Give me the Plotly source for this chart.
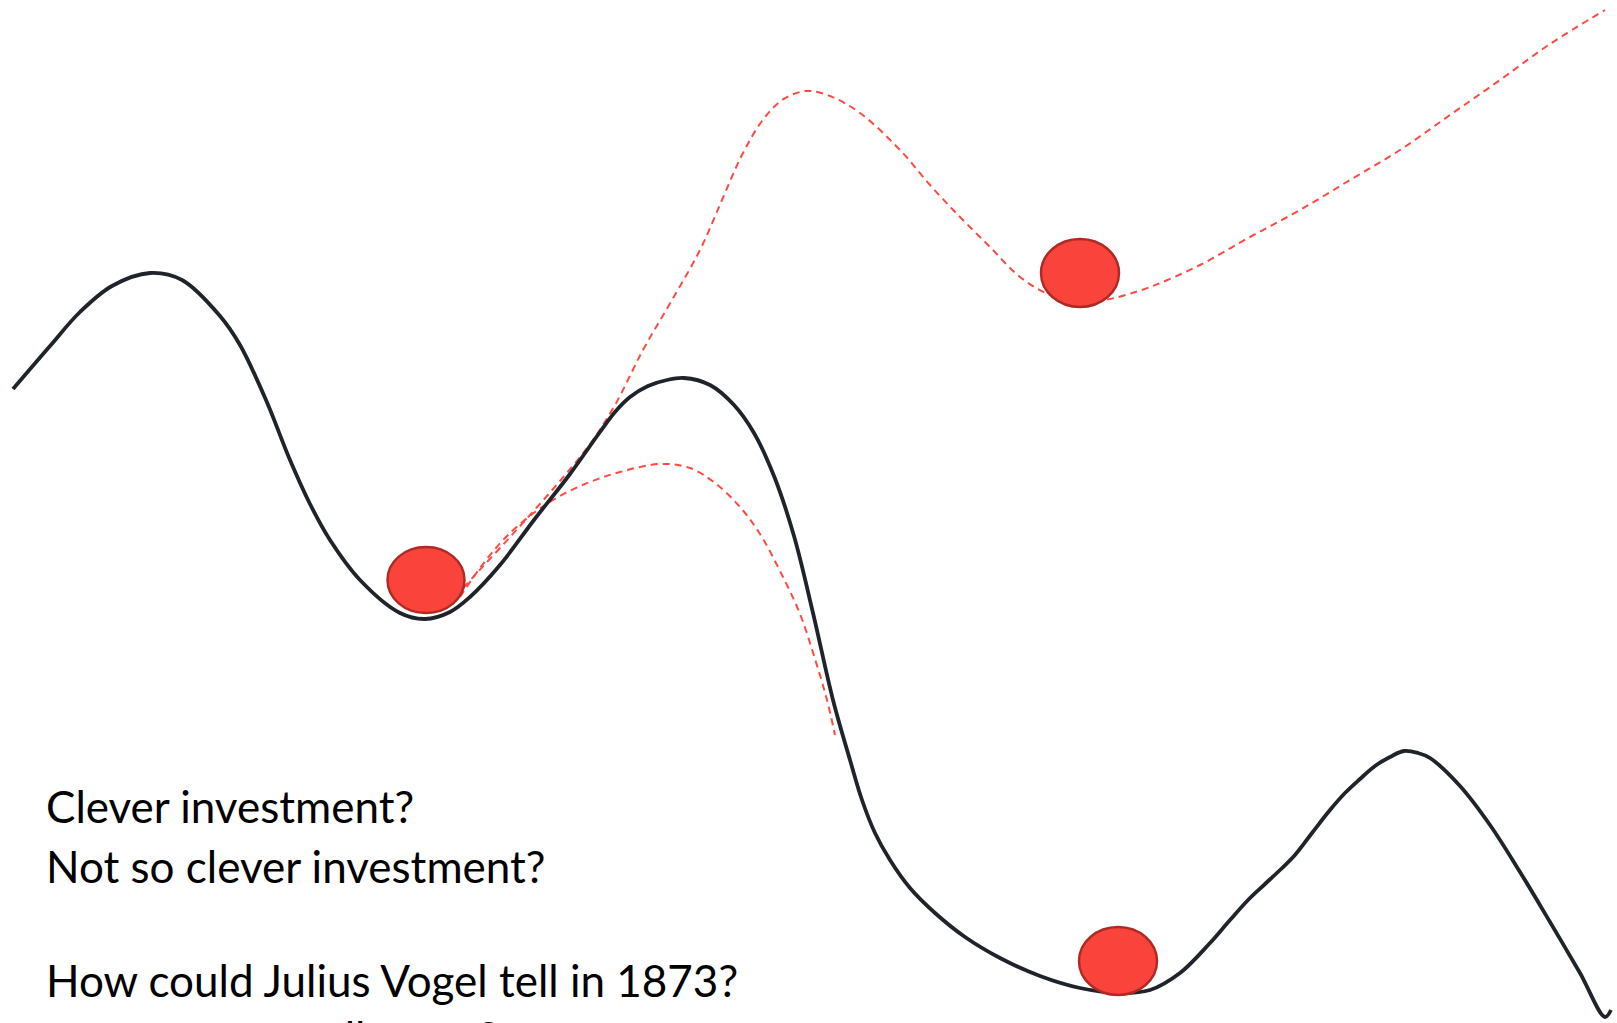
import plotly.graph_objects as go

# Landscape (solid black curve), pixel-space coordinates
land_x = [13, 50, 80, 112, 150, 182, 220, 240, 266, 290, 310, 330, 360, 400, 425, 450, 470, 500, 534, 570, 600, 615, 630, 648, 667, 684, 710, 734, 754, 774, 794, 813, 833, 850, 862, 875, 890, 910, 935, 965, 1000, 1040, 1080, 1120, 1150, 1180, 1210, 1230, 1250, 1265, 1280, 1295, 1312, 1330, 1345, 1360, 1375, 1390, 1404, 1418, 1430, 1460, 1490, 1520, 1550, 1580, 1605, 1611]
land_y = [389, 346, 312, 286, 273, 280, 316, 345, 400, 460, 504, 540, 580, 613, 619, 612, 597, 565, 520, 474, 432, 412, 397, 386, 380, 378, 385, 405, 433, 476, 536, 613, 700, 760, 800, 833, 860, 888, 913, 937, 958, 976, 988, 993, 990, 973, 943, 920, 898, 884, 870, 855, 833, 810, 793, 779, 766, 757, 751, 753, 758, 786, 825, 872, 922, 973, 1017, 1010]

# High path (red dashed, upper)
high_x = [455, 475, 500, 530, 560, 590, 615, 643, 672, 700, 722, 742, 762, 782, 800, 810, 830, 860, 900, 930, 960, 990, 1020, 1050, 1080, 1110, 1150, 1200, 1250, 1300, 1350, 1400, 1450, 1500, 1550, 1605]
high_y = [597, 575, 548, 515, 481, 444, 405, 350, 300, 250, 200, 155, 121, 100, 92, 91, 96, 113, 150, 185, 217, 247, 277, 295, 303, 299, 287, 265, 237, 210, 180, 150, 115, 80, 44, 10]

# Low path (red dashed, lower)
low_x = [460, 480, 505, 535, 560, 590, 620, 660, 690, 715, 740, 760, 780, 800, 815, 827, 835]
low_y = [597, 568, 538, 512, 496, 482, 472, 464, 468, 483, 507, 534, 571, 614, 659, 700, 735]

# Balls: centre x, centre y, radius x, radius y
ball_cx = [426, 1080, 1118]
ball_cy = [580, 273, 961]
ball_rx = [38.5, 39, 39]
ball_ry = [33, 34, 34]

text_lines = ["Clever investment?", "Not so clever investment?", "How could Julius Vogel tell in 1873?"]
text_baselines = [822, 882, 996]
cut_line = "was anyone really sure?"

fig = go.Figure()
fig.add_trace(go.Scatter(x=high_x, y=high_y, mode="lines",
                         line=dict(color="#FF4A42", width=2, dash="7px,5px", shape="spline", smoothing=1.0),
                         hoverinfo="skip"))
fig.add_trace(go.Scatter(x=low_x, y=low_y, mode="lines",
                         line=dict(color="#FF4A42", width=2, dash="7px,5px", shape="spline", smoothing=1.0),
                         hoverinfo="skip"))
fig.add_trace(go.Scatter(x=land_x, y=land_y, mode="lines",
                         line=dict(color="#1F242A", width=3.8, shape="spline", smoothing=1.0),
                         hoverinfo="skip"))

for cx, cy, rx, ry in zip(ball_cx, ball_cy, ball_rx, ball_ry):
    fig.add_shape(type="circle", xref="x", yref="y",
                  x0=cx - rx, x1=cx + rx, y0=cy - ry, y1=cy + ry,
                  fillcolor="#FA443B", line=dict(color="#B02A25", width=2.5), layer="above")

font = dict(family="Lato, Open Sans, sans-serif", size=44, color="#000000")
for t, b in zip(text_lines, text_baselines):
    fig.add_annotation(x=44, y=b, xref="x", yref="y", text=t, showarrow=False,
                       xanchor="left", yanchor="bottom", yshift=-12, font=font)

# last line is cut off by the bottom edge of the picture
fig.add_annotation(x=44, y=1022, xref="x", yref="y", text=cut_line, showarrow=False,
                   xanchor="left", yanchor="top", yshift=13, font=font)

fig.update_layout(width=1617, height=1023, margin=dict(l=0, r=0, t=0, b=0),
                  paper_bgcolor="white", plot_bgcolor="white", showlegend=False,
                  xaxis=dict(range=[0, 1617], visible=False, fixedrange=True),
                  yaxis=dict(range=[1023, 0], visible=False, fixedrange=True))

fig.write_html("out.html", config={"displayModeBar": False},
               post_script="document.body.style.margin='0';document.body.style.overflow='hidden';")
